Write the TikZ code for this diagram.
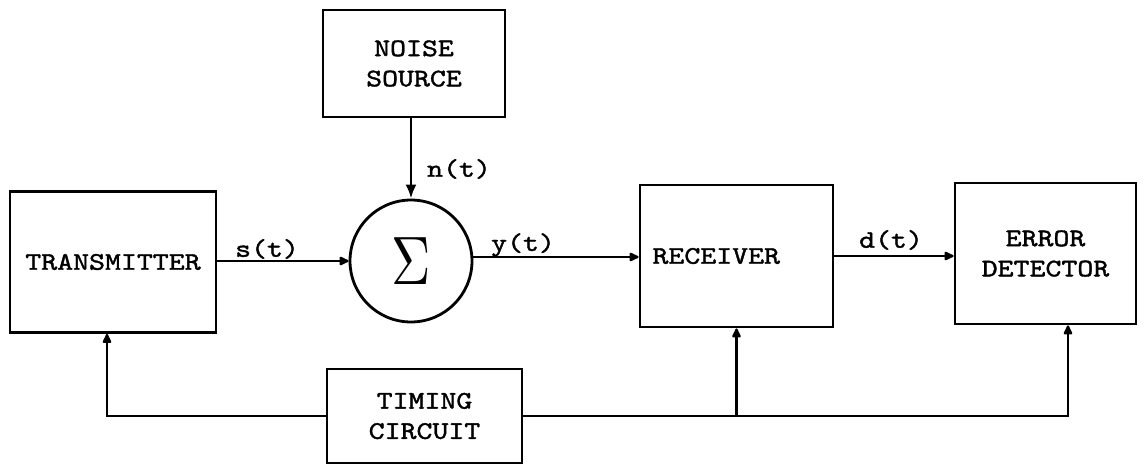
\documentclass[tikz,border=0pt]{standalone}
\usepackage{fontspec}
\newfontfamily\maquina{lmmono10-regular.otf}[FakeStretch=1.2,FakeBold=1.5]
\usetikzlibrary{arrows.meta,calc,positioning}
\definecolor{tinta}{HTML}{000000}
\tikzset{
  bloque/.style={rectangle,draw=tinta,fill=white,line width=1.6pt,inner sep=0pt,align=center,text=tinta,font=\maquina\fontsize{14.4}{17.2}\selectfont},
  sumador/.style={circle,draw=tinta,fill=white,line width=1.6pt,inner sep=0pt,minimum size=2.44cm,text=tinta},
  etiqueta/.style={inner sep=0pt,text=tinta,font=\maquina\fontsize{14.4}{17.2}\selectfont},
  linea/.style={draw=tinta,line width=1.6pt},
  entrada/.style={linea,-{Latex[round,length=2.4mm,width=2.2mm]}},
  ruido/.style={linea,-{Latex[length=2.8mm,width=2.2mm]}},
}

\begin{document}
\begin{tikzpicture}[x=0.02cm,y=-0.02cm]
\useasboundingbox (0,0) rectangle (1144,474);
\coordinate (c1) at (113,262);
\coordinate (c2) at (414,63.5);
\coordinate (c3) at (411,261);
\coordinate (c4) at (736.5,256);
\coordinate (c5) at (1045.5,253.5);
\coordinate (c6) at (424.5,416);
\node[bloque,minimum width=4.12cm,minimum height=2.82cm] (tx) at (c1) {TRANSMITTER};
\node[bloque,minimum width=3.64cm,minimum height=2.14cm] (ns) at (c2) {NOISE\\SOURCE};
\node[sumador] (sum) at (c3) {\scalebox{3.1}[3.9]{$\Sigma$}};
\node[bloque,minimum width=3.86cm,minimum height=2.84cm] (rx) at (c4) {RECEIVER\hspace{1.6em}};
\node[bloque,minimum width=3.62cm,minimum height=2.82cm] (err) at (c5) {ERROR\\DETECTOR};
\node[bloque,minimum width=3.90cm,minimum height=1.88cm] (tim) at (c6) {TIMING\\CIRCUIT};
\node[etiqueta] (st) at (267,249) {s(t)};
\node[etiqueta] (nt) at (459,169) {n(t)};
\node[etiqueta] (yt) at (523,245) {y(t)};
\node[etiqueta] (dt) at (891,240) {d(t)};
\coordinate (errin) at ($(err.south)+(22.5,0)$);
\coordinate (txin) at ($(tx.south)+(-6,0)$);
\coordinate (jn) at (rx.south |- tim.east);
\draw[entrada] (tx.east |- sum.west) -- (sum.west);
\draw[ruido] (sum.north |- ns.south) -- (sum.north);
\draw[entrada] ($(sum.east)+(0,-4)$) -- ($(rx.west |- sum.east)+(0,-4)$);
\draw[entrada] (rx.east) -- (err.west |- rx.east);
\draw[entrada] (tim.west) -| (txin);
\draw[entrada] (tim.east) -| (errin);
\draw[entrada] (jn) -- (rx.south);
\end{tikzpicture}
\end{document}
